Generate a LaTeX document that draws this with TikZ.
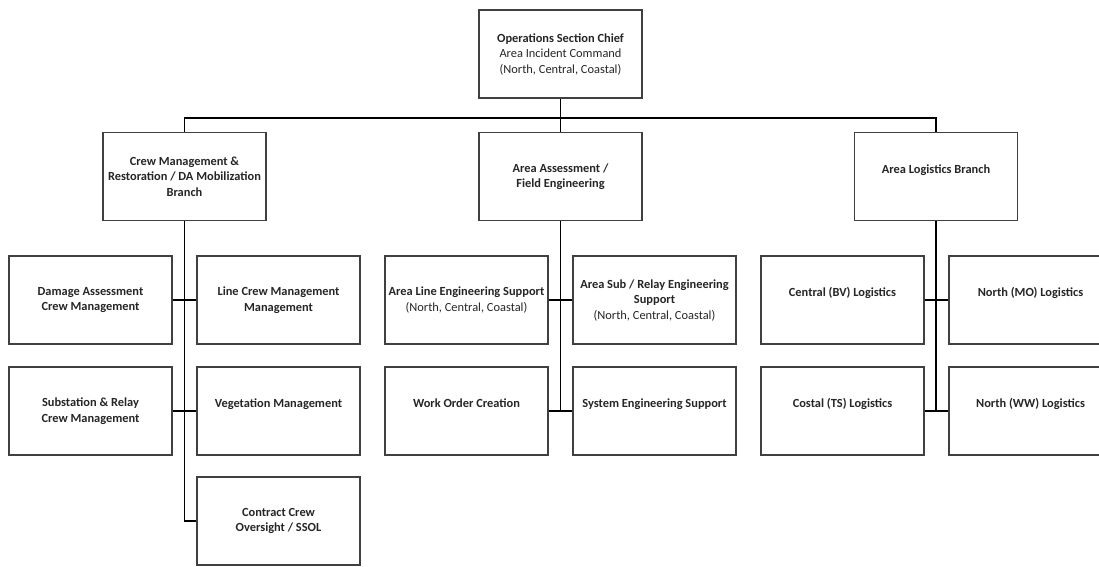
\documentclass[tikz,border=0pt]{standalone}
\usepackage{fontspec}
\setmainfont{Carlito}
\begin{document}
\begin{tikzpicture}[x=1pt,y=-1pt,
  box/.style={draw=black!75, line width=1.3pt, fill=white, minimum width=163pt,
    minimum height=88pt, inner sep=1pt, align=center, text=black!85,
    font=\fontsize{12.4pt}{15.5pt}\selectfont\bfseries},
  link/.style={draw=black, line width=1.2pt}]
\fill[white] (0,0) rectangle (1099,566);
\clip (0,0) rectangle (1099,566);
\useasboundingbox (0,0) rectangle (1099,566);

% command level
\node[box] (top) at (560.5,54) {Operations Section Chief\\{\mdseries Area Incident Command}\\{\mdseries (North, Central, Coastal)}};

% branches
\node[box] (lb) at (184.5,176.5) {Crew Management \&\\Restoration / DA Mobilization\\Branch};
\node[box] (mb) at (560.5,176.5) {Area Assessment /\\Field Engineering};
\node[box] (rb) at (936,176.5) {Area Logistics Branch\\\mbox{}};

% crew management units
\node[box] (dam) at (90.5,300) {Damage Assessment\\Crew Management};
\node[box] (lcm) at (278.5,300) {Line Crew Management\\Management};
\node[box] (sub) at (90.5,411) {Substation \& Relay\\Crew Management};
\node[box] (veg) at (278.5,411) {Vegetation Management\\\mbox{}};
\node[box] (con) at (278.5,521) {Contract Crew\\Oversight / SSOL};

% engineering units
\node[box] (ale) at (466.5,300) {Area Line Engineering Support\\{\mdseries (North, Central, Coastal)}};
\node[box] (ase) at (654.5,300) {Area Sub / Relay Engineering\\Support\\{\mdseries (North, Central, Coastal)}};
\node[box] (woc) at (466.5,411) {Work Order Creation\\\mbox{}};
\node[box] (ses) at (654.5,411) {System Engineering Support\\\mbox{}};

% logistics units
\node[box] (cen) at (842.5,300) {Central (BV) Logistics\\\mbox{}};
\node[box] (nmo) at (1030.5,300) {North (MO) Logistics\\\mbox{}};
\node[box] (cos) at (842.5,411) {Costal (TS) Logistics\\\mbox{}};
\node[box] (nww) at (1030.5,411) {North (WW) Logistics\\\mbox{}};

% connectors
\coordinate (bar) at (560.5,118);
\draw[link] (top.south) -- (bar);
\draw[link] (lb.north) |- (bar) -| (rb.north);
\draw[link] (bar) -- (mb.north);

\draw[link] (lb.south) |- (con.west);
\draw[link] (dam.east) -- (lcm.west);
\draw[link] (sub.east) -- (veg.west);

\draw[link] (mb.south) -- (mb.south |- woc.east);
\draw[link] (ale.east) -- (ase.west);
\draw[link] (woc.east) -- (ses.west);

\draw[link] (rb.south) -- (rb.south |- cos.east);
\draw[link] (cen.east) -- (nmo.west);
\draw[link] (cos.east) -- (nww.west);
\end{tikzpicture}
\end{document}
